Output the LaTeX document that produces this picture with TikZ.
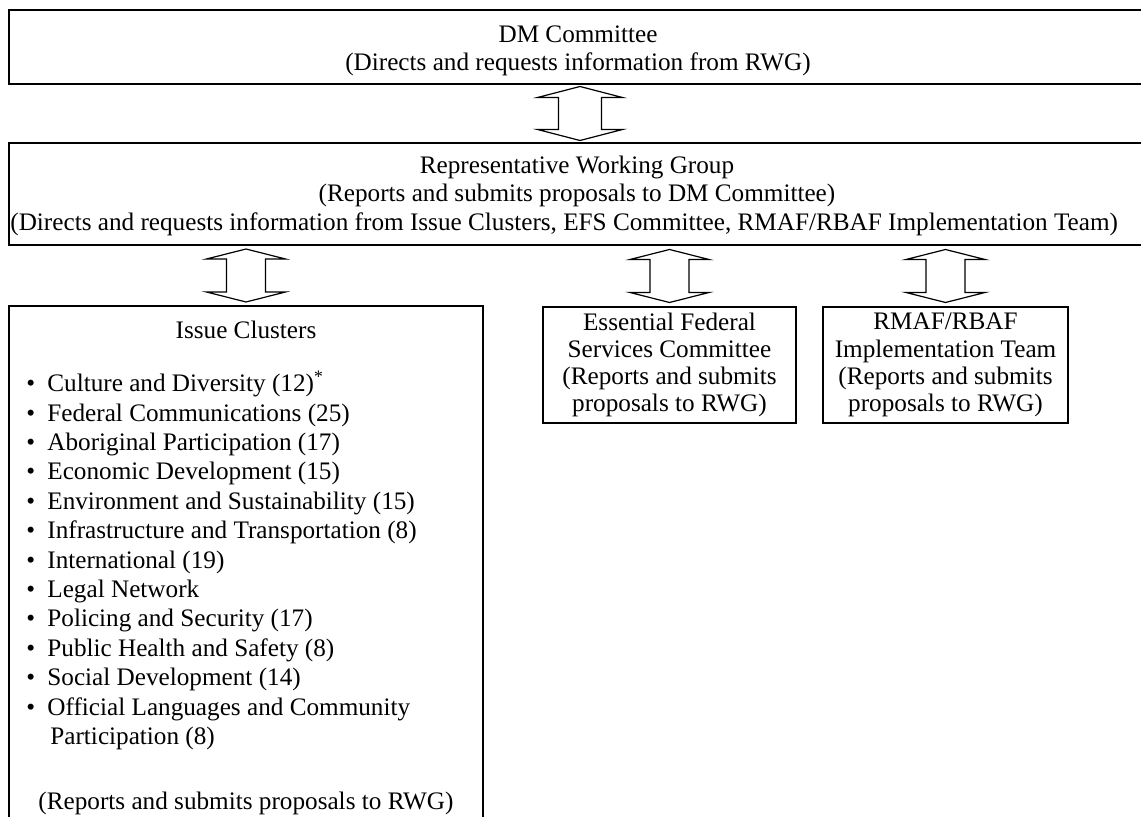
\documentclass[tikz,border=0pt]{standalone}
\usepackage{fontspec}
\setmainfont{Liberation Serif}
\usetikzlibrary{calc}
\newcommand{\clitem}[1]{\makebox[10.5pt][l]{\textbullet}#1}

\begin{document}
\begin{tikzpicture}[x=0.5pt,y=-0.5pt,
  txt/.style={align=center,inner sep=0pt,font=\fontsize{12.6}{14}\selectfont},
  box/.style={draw,line width=0.6pt,txt},
  pics/updown/.style n args={4}{code={
    \draw[line width=0.6pt] (0,-#1) -- (#2,{-#1+#4}) -- (#3,{-#1+#4}) -- (#3,{#1-#4})
      -- (#2,{#1-#4}) -- (0,#1) -- (-#2,{#1-#4}) -- (-#3,{#1-#4}) -- (-#3,{-#1+#4})
      -- (-#2,{-#1+#4}) -- cycle;}}]
\useasboundingbox (0,0) rectangle (1141,817);
\clip (0,0) rectangle (1141,817);
% top levels
\node[box,minimum width=571pt,minimum height=37pt] (dm) at (580,47) {};
\node[txt] (dmtext) at (578,51) {DM Committee\\(Directs and requests information from RWG)};
\node[box,minimum width=571pt,minimum height=51pt] (rwg) at (580,194) {};
\node[txt] (rwgtitle) at (577,181)
  {Representative Working Group\\(Reports and submits proposals to DM Committee)};
\node[txt,anchor=west] (rwgdirects) at (10,224)
  {(Directs and requests information from Issue Clusters, EFS Committee, RMAF/RBAF Implementation Team)};
% lower boxes
\node[box,minimum width=237pt,minimum height=262pt] (issue) at (246,568) {};
\node[box,minimum width=126.5pt,minimum height=58pt,font=\fontsize{12.6}{13.6}\selectfont] (efs) at (669.5,365)
  {Essential Federal\\Services Committee\\(Reports and submits\\proposals to RWG)};
\node[box,minimum width=122.5pt,minimum height=58pt,font=\fontsize{12.6}{13.6}\selectfont] (rmaf) at (945.5,365)
  {RMAF/RBAF\\Implementation Team\\(Reports and submits\\proposals to RWG)};
% issue cluster text
\node[txt] (issuetitle) at (246,330) {Issue Clusters};
\node[txt,align=left,anchor=north west,font=\fontsize{12.6}{14.7}\selectfont] (issuelist) at (26,371)
  {\clitem{Culture and Diversity (12)\textsuperscript{*}}\\
   \clitem{Federal Communications (25)}\\
   \clitem{Aboriginal Participation (17)}\\
   \clitem{Economic Development (15)}\\
   \clitem{Environment and Sustainability (15)}\\
   \clitem{Infrastructure and Transportation (8)}\\
   \clitem{International (19)}\\
   \clitem{Legal Network}\\
   \clitem{Policing and Security (17)}\\
   \clitem{Public Health and Safety (8)}\\
   \clitem{Social Development (14)}\\
   \clitem{Official Languages and Community}\\
   \hspace{12pt}Participation (8)};
\node[txt] (issuenote) at (246,803) {(Reports and submits proposals to RWG)};
% double arrows
\pic at ($(dm.south)!0.5!(rwg.north)$) {updown={27}{42.5}{21.5}{11}};
\pic at ($(rwg.south -| issue.north)!0.5!(issue.north)$) {updown={26.5}{39.5}{19.5}{10}};
\pic at ($(rwg.south -| efs.north)!0.5!(efs.north)$) {updown={26.5}{39.5}{19.5}{10}};
\pic at ($(rwg.south -| rmaf.north)!0.5!(rmaf.north)$) {updown={26.5}{39.5}{19.5}{10}};
\end{tikzpicture}
\end{document}
